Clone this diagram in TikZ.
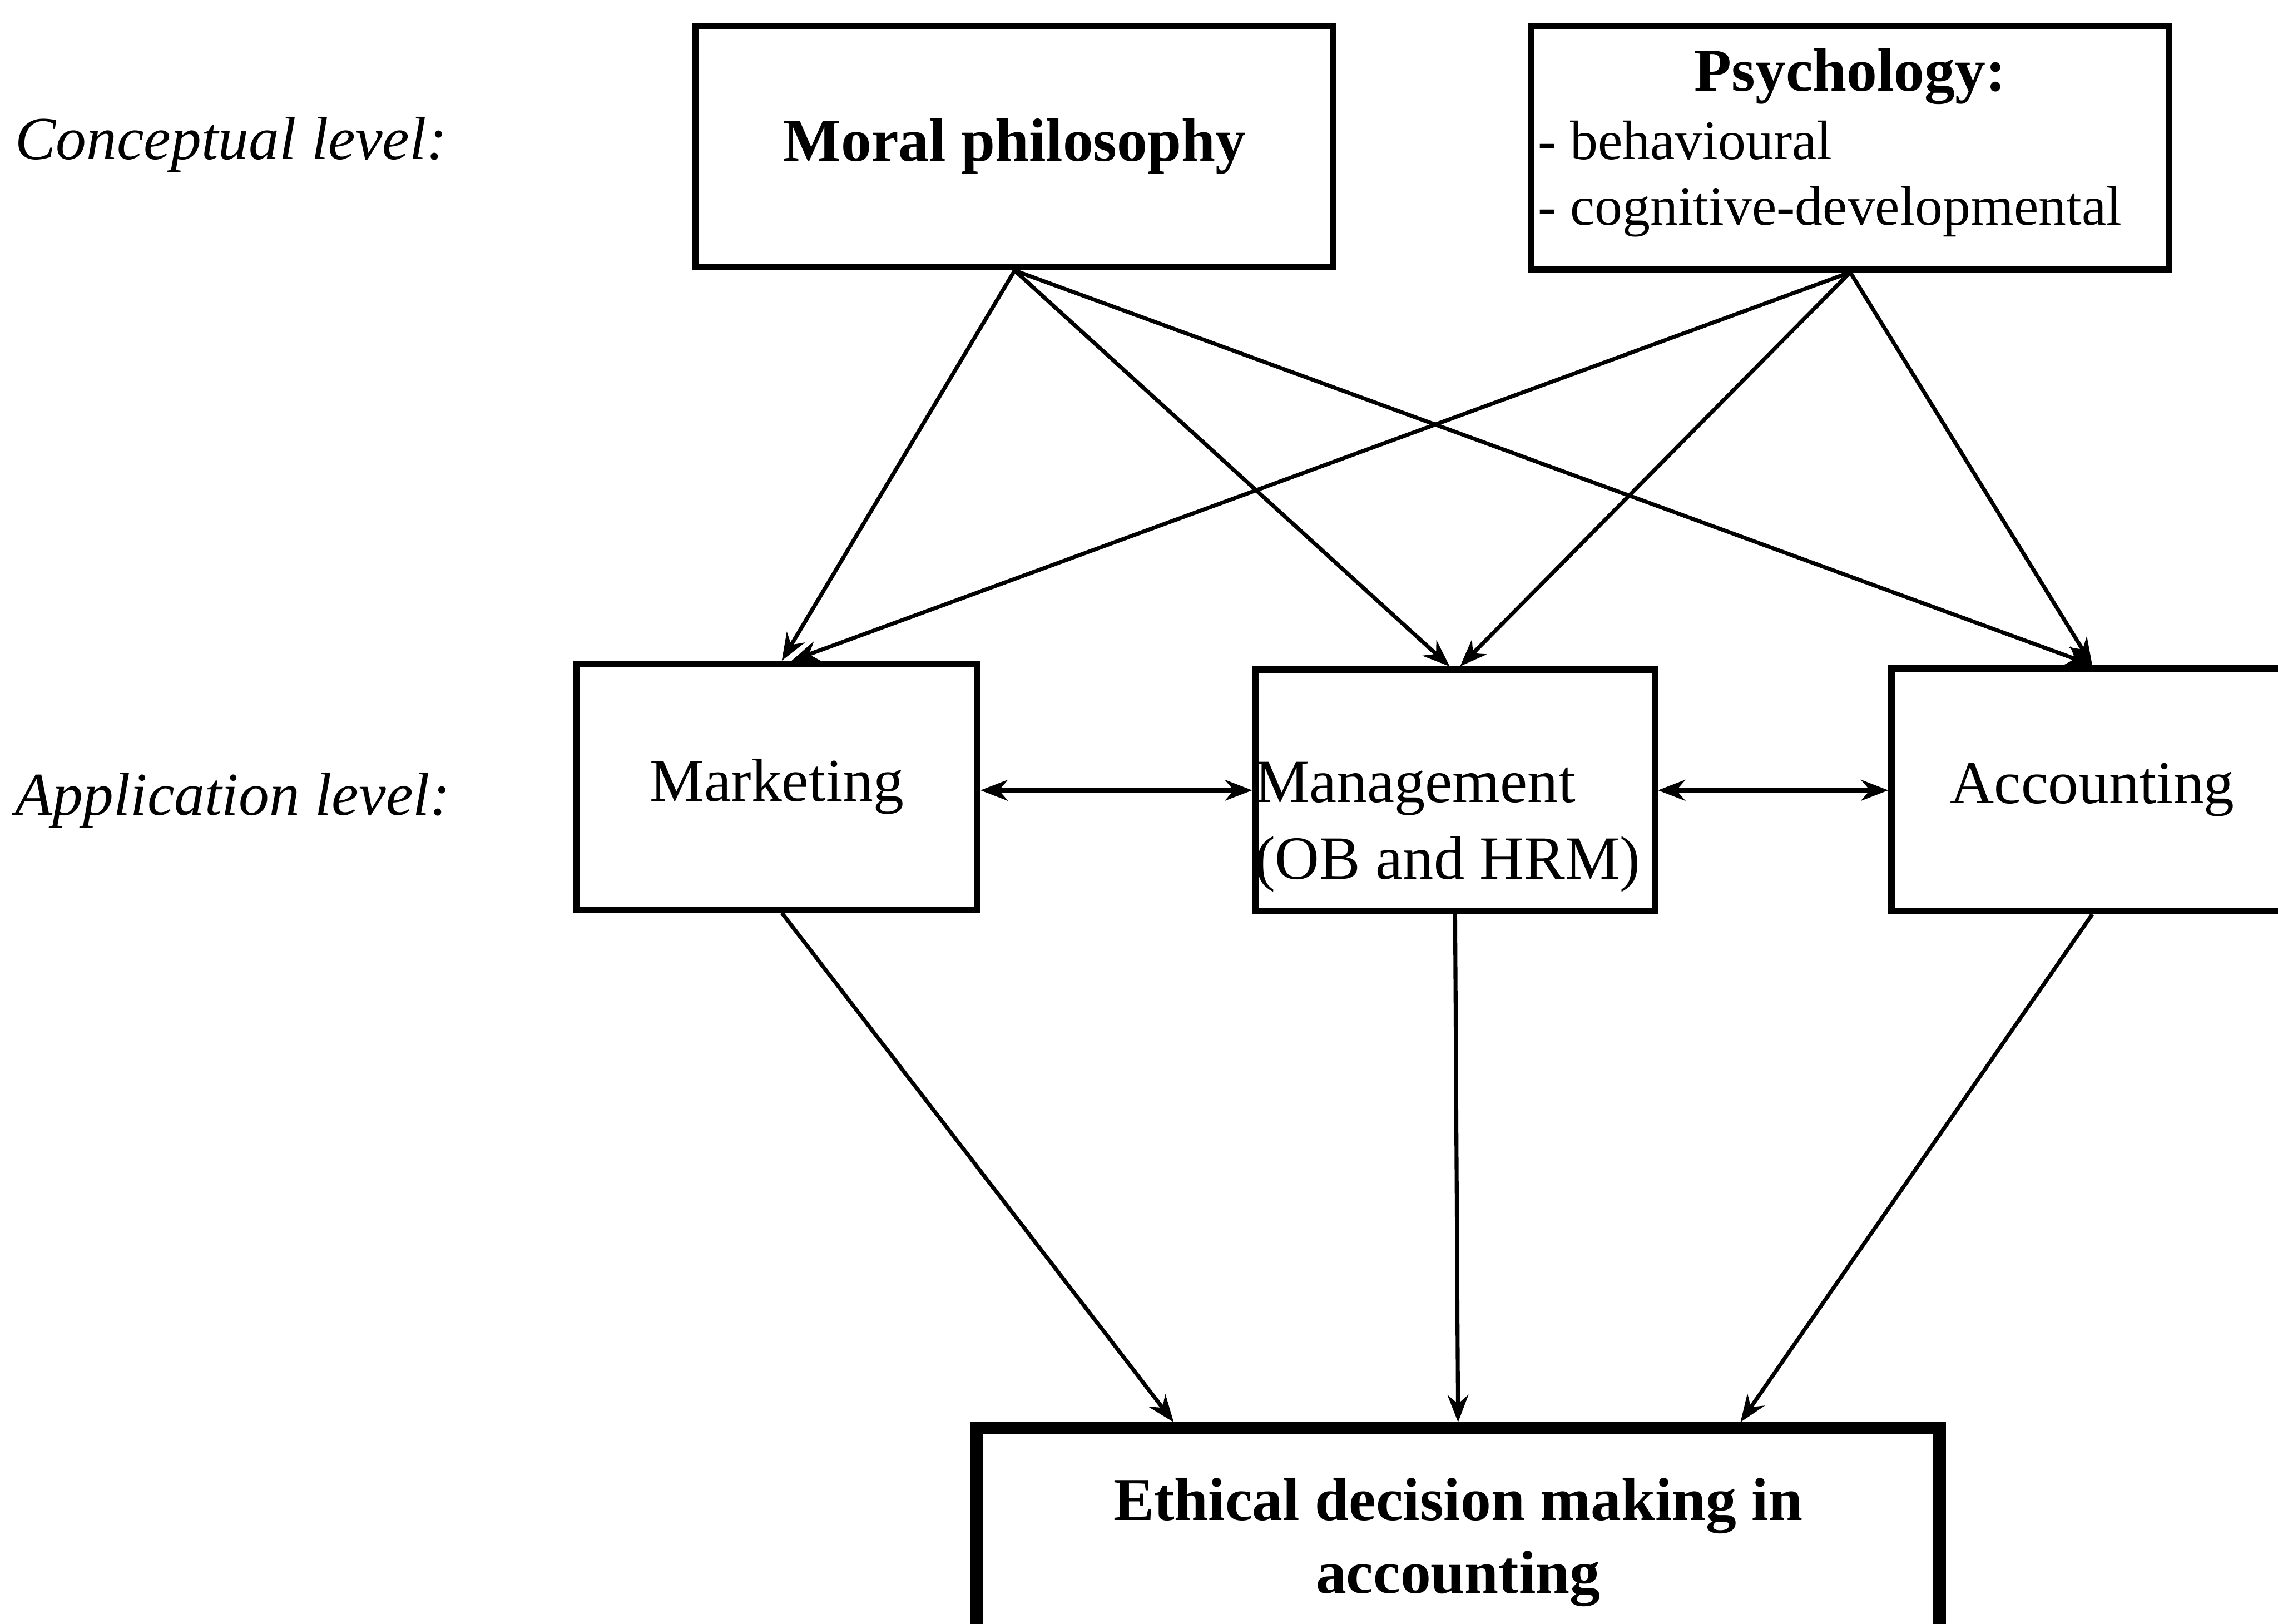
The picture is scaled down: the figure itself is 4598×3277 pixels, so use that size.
\documentclass[tikz,border=0pt]{standalone}
\usepackage{fontspec}
\setmainfont{Liberation Serif}
\usetikzlibrary{arrows.meta}
\begin{document}
\begin{tikzpicture}[x=0.1pt,y=-0.1pt,
  box/.style={draw, line width=1.3pt, inner sep=1.5pt, font=\fontsize{12.3}{15}\selectfont},
  txt/.style={inner sep=0pt, font=\fontsize{11.2}{13.5}\selectfont},
  arr/.style={line width=0.8pt, -{Stealth[length=5.5pt,width=4.2pt]}},
  darr/.style={line width=0.9pt, {Stealth[length=5.5pt,width=4.2pt]}-{Stealth[length=5.5pt,width=4.2pt]}},
  lvl/.style={font=\fontsize{12.3}{15}\selectfont\itshape, anchor=west, inner sep=0pt}]
\useasboundingbox (0,0) rectangle (4598,3277);
\clip (0,0) rectangle (4598,3277);
\fill[white] (0,0) rectangle (4598,3277);

% level labels
\node[lvl] (conc) at (29,292) {Conceptual level:};
\node[lvl] (appl) at (29,1615) {Application level:};

% conceptual level
\node[box, minimum width=128.7pt, minimum height=48.7pt, font=\fontsize{12.3}{15}\selectfont\bfseries] (moral) at (2048,296) {Moral philosophy};
\node[box, minimum width=128.7pt, minimum height=49pt] (psych) at (3734.5,298) {};
\node[txt, anchor=base, font=\fontsize{12.3}{15}\selectfont\bfseries] (psychtitle) at (3734.5,184) {Psychology:};
\node[txt, anchor=base west] (psychone) at (3102,322) {- behavioural};
\node[txt, anchor=base west] (psychtwo) at (3102,454) {- cognitive-developmental};

% application level
\node[box, minimum width=80.9pt, minimum height=49.6pt] (mark) at (1568,1588) {Marketing};
\node[box, minimum width=80.6pt, minimum height=48.7pt] (mgmt) at (2937,1595) {};
\node[anchor=west, align=left, inner sep=0.3pt, font=\fontsize{12.4}{15.5}\selectfont] (mgmttxt) at ([yshift=-7.4pt]mgmt.west) {Management\\(OB and HRM)};
\node[box, minimum width=81pt, minimum height=49pt] (acc) at (4223,1594) {Accounting};

% outcome
\node[box, line width=2.5pt, minimum width=194.4pt, minimum height=46pt, align=center, font=\fontsize{12.3}{14.7}\selectfont\bfseries] (eth) at (2943,3113) {Ethical decision making in\\accounting};

% arrows from conceptual level
\draw[arr] (moral.south) -- ([xshift=1pt]mark.north);
\draw[arr] (moral.south) -- ([xshift=-1.1pt]mgmt.north);
\draw[arr] (moral.south) -- (acc.north);
\draw[arr] (psych.south) -- ([xshift=3pt]mark.north);
\draw[arr] (psych.south) -- ([xshift=1pt]mgmt.north);
\draw[arr] (psych.south) -- (acc.north);

% horizontal links
\draw[darr] (mark.east |- mgmt.west) -- (mgmt.west);
\draw[darr] (mgmt.east) -- (acc.west |- mgmt.east);

% arrows to outcome
\draw[arr] ([xshift=1pt]mark.south) -- ([xshift=-57.4pt]eth.north);
\draw[arr] (mgmt.south) -- (eth.north);
\draw[arr] (acc.south) -- ([xshift=57pt]eth.north);
\end{tikzpicture}
\end{document}
